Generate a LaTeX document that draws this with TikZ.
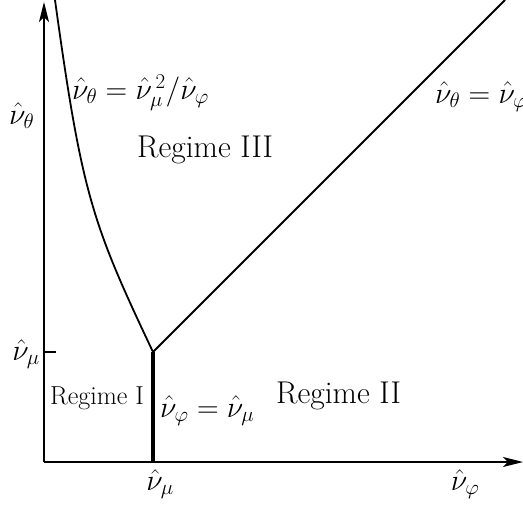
\RequirePackage{fix-cm}
\documentclass[tikz,border=0pt]{standalone}
\usetikzlibrary{arrows.meta}
\begin{document}
\begin{tikzpicture}[x=1pt,y=-1pt,
  axis/.style={line width=1.3pt,-{Stealth[length=20pt,width=10pt,inset=5pt]}},
  bound/.style={line width=1.8pt},
  lbl/.style={inner sep=0pt,font=\fontsize{30}{33}\selectfont},
  reg/.style={inner sep=0pt,anchor=base west}]
\useasboundingbox (0,0) rectangle (523,506);
\clip (0,0) rectangle (523,506);
\coordinate (O) at (44,462);
\coordinate (xend) at (523,462);
\coordinate (yend) at (44,2);
\coordinate (P) at (153,352);
\coordinate (Pb) at (153,462);
\coordinate (D) at (505,0);
\coordinate (T) at (55,0);
\coordinate (tk) at (56,352);
\coordinate (tk0) at (44,352);
\draw[axis] (O) -- (xend);
\draw[axis] (O) -- (yend);
\draw[line width=2pt] (tk0) -- (tk);
\draw[line width=3.6pt] (P) -- (Pb);
\draw[bound] (P) -- (D);
\draw[bound] (P) .. controls (92,223) and (82,195) .. (T);
\node[lbl,anchor=base west] (lth) at (9,124) {$\hat\nu_\theta$};
\node[lbl,anchor=base east] (lmu) at (40,360) {$\hat\nu_\mu$};
\node[lbl,anchor=base] (xmu) at (160,490) {$\hat\nu_\mu$};
\node[lbl,anchor=base] (xphi) at (465,490) {$\hat\nu_\varphi$};
\node[lbl,anchor=base west] (hyp) at (72,99) {$\hat\nu_\theta=\hat\nu_\mu^{\,2}/\hat\nu_\varphi$};
\node[lbl,anchor=base west] (diag) at (435,103) {$\hat\nu_\theta=\hat\nu_\varphi$};
\node[lbl,anchor=base west] (vert) at (160,417) {$\hat\nu_\varphi=\hat\nu_\mu$};
\node[reg,font=\fontsize{31.5}{34}\selectfont] (r3) at (137,157) {Regime III};
\node[reg,font=\fontsize{31.5}{34}\selectfont] (r2) at (276,403) {Regime II};
\node[reg,font=\fontsize{26}{29}\selectfont] (r1) at (50,404) {Regime I};
\end{tikzpicture}
\end{document}
